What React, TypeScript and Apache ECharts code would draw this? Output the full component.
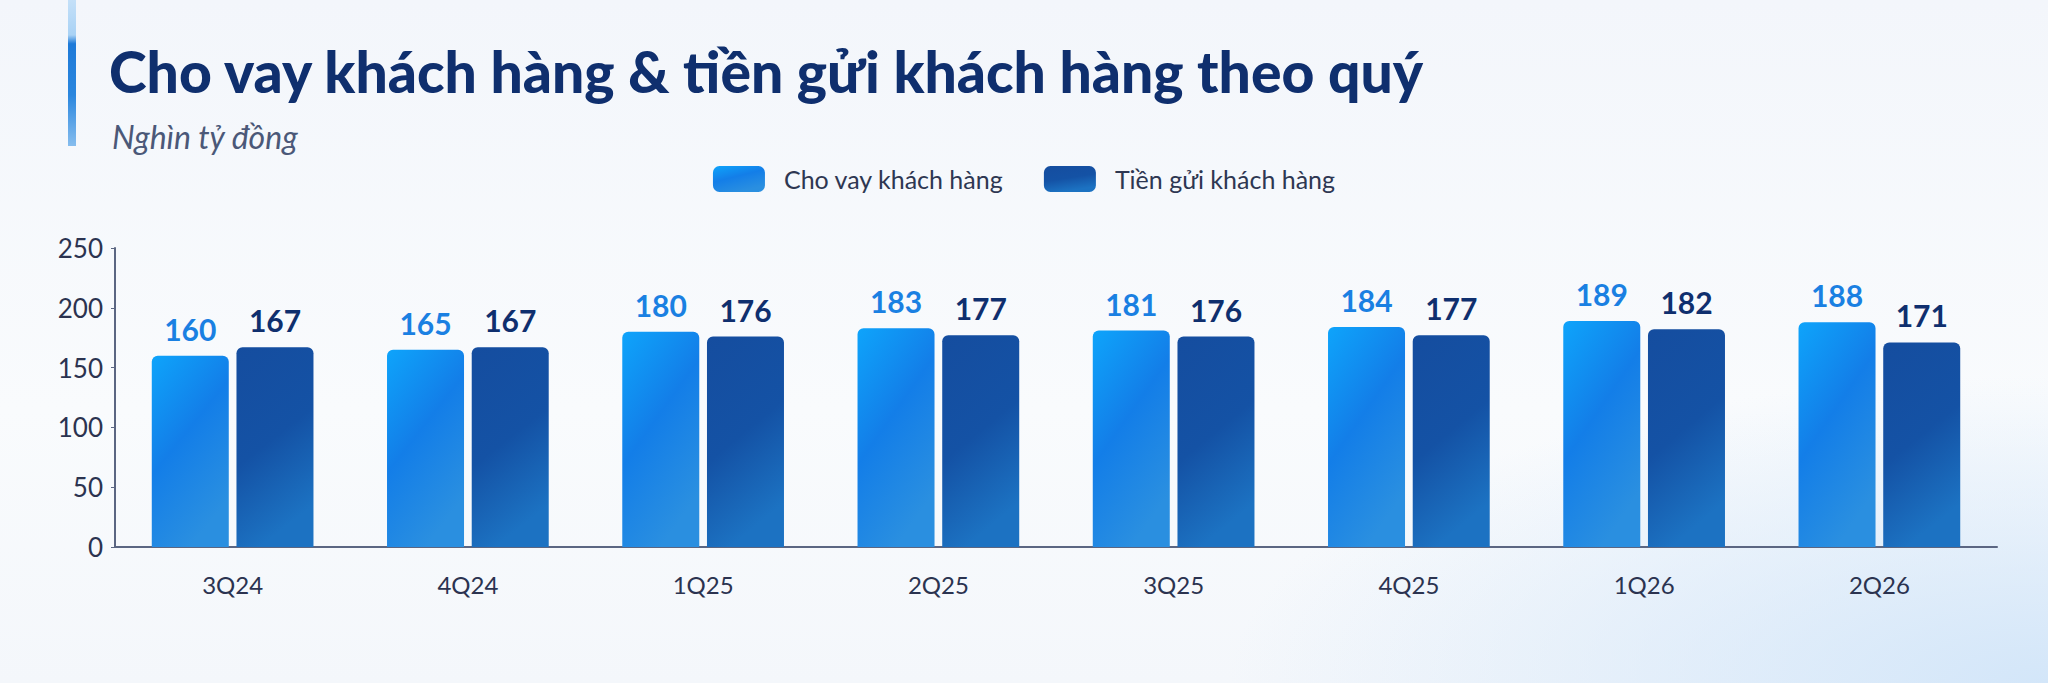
import React, { useEffect, useRef } from "react";
import * as echarts from "echarts";

const categories = ["3Q24", "4Q24", "1Q25", "2Q25", "3Q25", "4Q25", "1Q26", "2Q26"];
const loans = [160, 165, 180, 183, 181, 184, 189, 188];
const deposits = [167, 167, 176, 177, 176, 177, 182, 171];
const seriesNames = ["Cho vay khách hàng", "Tiền gửi khách hàng"];

const FONT = "Lato, 'Noto Sans', sans-serif";
const NAVY = "#0f2f6e";

const lightFill = new echarts.graphic.LinearGradient(0, 0, 0.5, 1, [
    { offset: 0, color: "#0ea4fb" },
    { offset: 0.5, color: "#137ee8" },
    { offset: 1, color: "#2a8fe0" }
]);
const darkFill = new echarts.graphic.LinearGradient(0, 0, 0.3, 1, [
    { offset: 0, color: "#154d9f" },
    { offset: 0.55, color: "#1452a5" },
    { offset: 1, color: "#1c72c2" }
]);

const App: React.FC = () => {
    const ref = useRef<HTMLDivElement | null>(null);

    useEffect(() => {
        if (!ref.current) return;
        const chart = echarts.init(ref.current, undefined, { renderer: "svg" });

        const option: echarts.EChartsOption = {
            animation: false,
            title: [
                {
                    text: "Cho vay khách hàng & tiền gửi khách hàng theo quý",
                    left: 104,
                    top: 37,
                    textStyle: { fontFamily: FONT, fontSize: 57, fontWeight: 900, color: NAVY }
                },
                {
                    text: "Nghìn tỷ đồng",
                    left: 107,
                    top: 115,
                    textStyle: { fontFamily: FONT, fontSize: 32, fontStyle: "italic", fontWeight: "normal", color: "#4b5878" }
                }
            ],
            graphic: [
                {
                    type: "rect",
                    left: 68,
                    top: 0,
                    shape: { width: 8, height: 146 },
                    style: {
                        fill: new echarts.graphic.LinearGradient(0, 0, 0, 1, [
                            { offset: 0, color: "#c4e0f8" },
                            { offset: 0.24, color: "#a9d2f5" },
                            { offset: 0.3, color: "#1e7ad8" },
                            { offset: 0.65, color: "#2a86de" },
                            { offset: 1, color: "#86bdee" }
                        ])
                    }
                }
            ],
            legend: {
                data: seriesNames,
                left: "center",
                top: 161,
                itemWidth: 52,
                itemHeight: 26,
                itemGap: 40,
                textStyle: { fontFamily: FONT, fontSize: 25, color: "#2e3752", padding: [0, 0, 0, 14] }
            },
            grid: { left: 115, right: 51, top: 248, bottom: 136 },
            xAxis: {
                type: "category",
                data: categories,
                axisTick: { show: false },
                axisLine: { lineStyle: { color: "#5b6682", width: 2 } },
                axisLabel: { fontFamily: FONT, fontSize: 24, color: "#2b3350", margin: 25 }
            },
            yAxis: {
                type: "value",
                min: 0,
                max: 250,
                interval: 50,
                splitLine: { show: false },
                axisLine: { show: true, lineStyle: { color: "#5b6682", width: 2 } },
                axisTick: { show: true, length: 4, lineStyle: { color: "#5b6682" } },
                axisLabel: { fontFamily: FONT, fontSize: 26, color: "#2b3350", margin: 12 }
            },
            series: [
                {
                    name: seriesNames[0],
                    type: "bar",
                    data: loans,
                    barWidth: 77,
                    barGap: "10%",
                    itemStyle: { color: lightFill, borderRadius: [6, 6, 0, 0] },
                    label: {
                        show: true,
                        position: "top",
                        distance: 12,
                        fontFamily: FONT,
                        fontSize: 30,
                        fontWeight: "bold",
                        color: "#1a80e2"
                    }
                },
                {
                    name: seriesNames[1],
                    type: "bar",
                    data: deposits,
                    barWidth: 77,
                    itemStyle: { color: darkFill, borderRadius: [6, 6, 0, 0] },
                    label: {
                        show: true,
                        position: "top",
                        distance: 12,
                        fontFamily: FONT,
                        fontSize: 30,
                        fontWeight: "bold",
                        color: NAVY
                    }
                }
            ]
        };

        chart.setOption(option);
        const onResize = () => chart.resize();
        window.addEventListener("resize", onResize);
        return () => {
            window.removeEventListener("resize", onResize);
            chart.dispose();
        };
    }, []);

    return (
        <div
            style={{
                position: "fixed",
                left: 0,
                top: 0,
                width: "100vw",
                height: "100vh",
                background:
                    "radial-gradient(ellipse 40% 45% at 100% 100%, #d3e6f9 0%, rgba(255,255,255,0) 100%), linear-gradient(180deg, #f3f6fb 0%, #f9fbfd 60%, #f4f7fb 100%)"
            }}
        >
            <div ref={ref} style={{ width: "100%", height: "100%" }} />
        </div>
    );
};

export default App;
